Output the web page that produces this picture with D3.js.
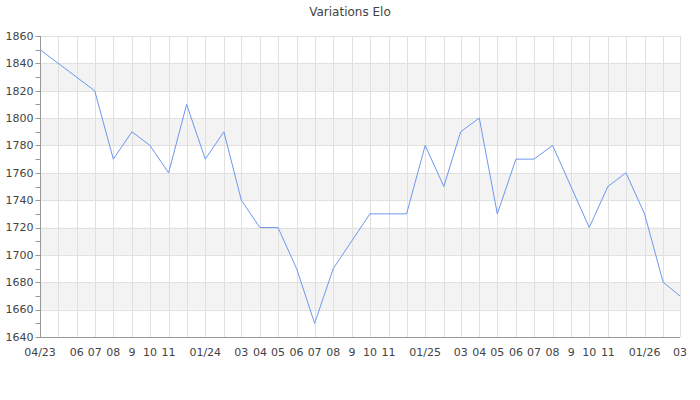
<!DOCTYPE html>
<html>
<head>
<meta charset="utf-8">
<script src="https://cdn.jsdelivr.net/npm/d3@7"></script>
<style>
  body { margin: 0; background: #fff; }
  svg { display: block; font-family: "DejaVu Sans", sans-serif; }
</style>
</head>
<body>
<svg id="chart"></svg>
<script>
// months on the axis, with their labels ('' = label skipped)
var months = ['2023-04', '2023-05', '2023-06', '2023-07', '2023-08', '2023-09', '2023-10', '2023-11', '2023-12',
    '2024-01', '2024-02', '2024-03', '2024-04', '2024-05', '2024-06', '2024-07', '2024-08', '2024-09', '2024-10',
    '2024-11', '2024-12', '2025-01', '2025-02', '2025-03', '2025-04', '2025-05', '2025-06', '2025-07', '2025-08',
    '2025-09', '2025-10', '2025-11', '2025-12', '2026-01', '2026-02', '2026-03'];
var month_labels = ['04/23', '', '06', '07', '08', '9', '10', '11', '',
    '01/24', '', '03', '04', '05', '06', '07', '08', '9', '10',
    '11', '', '01/25', '', '03', '04', '05', '06', '07', '08',
    '9', '10', '11', '', '01/26', '', '03'];

// elo points
var elo_dates = ['2023-04', '2023-07', '2023-08', '2023-09', '2023-10', '2023-11', '2023-12', '2024-01', '2024-02',
    '2024-03', '2024-04', '2024-05', '2024-06', '2024-07', '2024-08', '2024-10', '2024-11', '2024-12', '2025-01',
    '2025-02', '2025-03', '2025-04', '2025-05', '2025-06', '2025-07', '2025-08', '2025-10', '2025-11', '2025-12',
    '2026-01', '2026-02', '2026-03'];
var elo_values = [1850, 1820, 1770, 1790, 1780, 1760, 1810, 1770, 1790,
    1740, 1720, 1720, 1690, 1650, 1690, 1730, 1730, 1730, 1780,
    1750, 1790, 1800, 1730, 1770, 1770, 1780, 1720, 1750, 1760,
    1730, 1680, 1670];

var y_ticks = [1640, 1660, 1680, 1700, 1720, 1740, 1760, 1780, 1800, 1820, 1840, 1860];
var y_minor = d3.range(1640, 1861, 10);
var title = 'Variations Elo';

var width = 700, height = 400;
var margin = {top: 36, right: 20, bottom: 63, left: 40};
var parse = d3.utcParse('%Y-%m');

var svg = d3.select('#chart').attr('width', width).attr('height', height);

var x = d3.scaleUtc()
    .domain([parse(months[0]), parse(months[months.length - 1])])
    .range([margin.left, width - margin.right]);
var y = d3.scaleLinear()
    .domain([1640, 1860])
    .range([height - margin.bottom, margin.top]);

// alternating bands
for (var i = 0; i < y_ticks.length - 1; i++) {
    if (i % 2 == 1) {
        svg.append('rect')
            .attr('x', margin.left)
            .attr('y', y(y_ticks[i + 1]))
            .attr('width', x.range()[1] - margin.left)
            .attr('height', y(y_ticks[i]) - y(y_ticks[i + 1]))
            .attr('fill', '#f3f3f3');
    }
}

// grid
svg.append('g').selectAll('line.h')
    .data(y_ticks).enter().append('line')
    .attr('x1', margin.left).attr('x2', x.range()[1])
    .attr('y1', function(d) { return Math.round(y(d)) + 0.5; })
    .attr('y2', function(d) { return Math.round(y(d)) + 0.5; })
    .attr('stroke', '#e0e0e0');
svg.append('g').selectAll('line.v')
    .data(months).enter().append('line')
    .attr('x1', function(d) { return Math.round(x(parse(d))) + 0.5; })
    .attr('x2', function(d) { return Math.round(x(parse(d))) + 0.5; })
    .attr('y1', y(1860)).attr('y2', y(1640))
    .attr('stroke', '#e0e0e0');

// line
var line = d3.line()
    .x(function(d, i) { return x(parse(elo_dates[i])); })
    .y(function(d) { return y(d); });
svg.append('path')
    .datum(elo_values)
    .attr('d', line)
    .attr('fill', 'none')
    .attr('stroke', '#6c98ee')
    .attr('stroke-width', 1);

// left axis
var g_y = svg.append('g')
    .attr('transform', 'translate(' + (margin.left + 0.5) + ',0)');
g_y.append('line')
    .attr('y1', y(1860)).attr('y2', y(1640))
    .attr('stroke', '#999');
g_y.selectAll('line.tick')
    .data(y_minor).enter().append('line')
    .attr('x1', -5).attr('x2', 0)
    .attr('y1', function(d) { return Math.round(y(d)) + 0.5; })
    .attr('y2', function(d) { return Math.round(y(d)) + 0.5; })
    .attr('stroke', '#999');
g_y.selectAll('text')
    .data(y_ticks).enter().append('text')
    .attr('x', -7)
    .attr('y', function(d) { return y(d); })
    .attr('dy', '0.35em')
    .attr('text-anchor', 'end')
    .attr('font-size', 11)
    .attr('fill', '#444')
    .text(function(d) { return d; });

// bottom axis
svg.append('line')
    .attr('x1', margin.left).attr('x2', x.range()[1])
    .attr('y1', Math.round(y(1640)) + 0.5).attr('y2', Math.round(y(1640)) + 0.5)
    .attr('stroke', '#999');
svg.append('g').selectAll('text')
    .data(months).enter().append('text')
    .attr('x', function(d) { return x(parse(d)); })
    .attr('y', y(1640) + 19)
    .attr('text-anchor', 'middle')
    .attr('font-size', 11)
    .attr('fill', '#444')
    .text(function(d, i) { return month_labels[i]; });

// title
svg.append('text')
    .attr('x', width / 2)
    .attr('y', 16)
    .attr('text-anchor', 'middle')
    .attr('font-size', 12)
    .attr('fill', '#444')
    .text(title);
</script>
</body>
</html>
